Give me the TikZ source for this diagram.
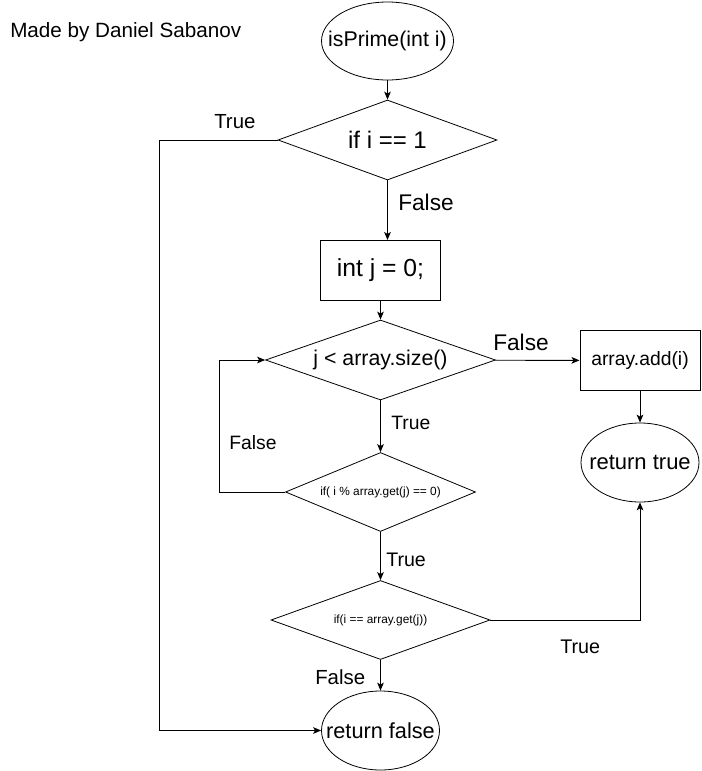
\documentclass[tikz,border=0pt]{standalone}
\usepackage{fontspec}
\setmainfont{Liberation Sans}
\usetikzlibrary{shapes.geometric, arrows.meta, positioning}

\newcommand{\fsz}[1]{\fontsize{#1}{#1}\selectfont}
\tikzset{
  terminal/.style={ellipse, draw, line width=0.6pt, inner sep=0pt},
  process/.style={rectangle, draw, line width=0.75pt, inner sep=0pt},
  decision/.style={diamond, draw, line width=0.6pt, inner sep=0pt, aspect=2.7},
  flow/.style={line width=0.7pt, -{Stealth[length=6pt,width=5pt,inset=1.5pt]}},
  lbl/.style={anchor=west, inner sep=0pt},
}

\begin{document}
\begin{tikzpicture}[x=0.75pt,y=-0.75pt]
        \useasboundingbox (0,0) rectangle (701,771);
        % Header
        \node[lbl, font=\fsz{15.5pt}] (author) at (10,32) {Made by Daniel Sabanov};

        % Shapes of the flow chart
        \node[terminal, minimum width=99pt, minimum height=58.5pt,
              label=center:{\fsz{16pt}isPrime(int i)}] (start) at (387.5,41) {};
        \node[decision, minimum width=164.25pt, minimum height=60pt,
              font=\fsz{18pt}] (dIf) at (387.5,140) {if i == 1};
        \node[process, minimum width=90pt, minimum height=45pt,
              font=\fsz{18.5pt}] (init) at (380.5,270.5) {int j = 0;};
        \node[decision, minimum width=172.5pt, minimum height=60pt,
              font=\fsz{16pt}] (dLoop) at (380.5,360) {j < array.size()};
        \node[process, minimum width=90pt, minimum height=45pt,
              font=\fsz{14.5pt}] (add) at (640,360.5) {array.add(i)};
        \node[terminal, minimum width=88.5pt, minimum height=59.25pt,
              label=center:{\fsz{16.5pt}return true}] (retTrue) at (640,462.5) {};
        \node[decision, minimum width=142.5pt, minimum height=59.25pt,
              font=\fsz{8.9pt}] (dMod) at (380.5,492) {if( i \% array.get(j) == 0)};
        \node[decision, minimum width=164.25pt, minimum height=59.25pt,
              font=\fsz{8.9pt}] (dEq) at (380.5,620) {if(i == array.get(j))};
        \node[terminal, minimum width=88.5pt, minimum height=59.25pt,
              label=center:{\fsz{16.3pt}return false}] (retFalse) at (380.5,730.5) {};

        % Connectors
        \draw[flow] (start.south) -- (start.south |- dIf.north);
        \draw[flow] (dIf.south) -- (dIf.south |- init.north);
        \draw[flow] (dIf.west) -- ++(-118,0) |- (retFalse.west);
        \draw[flow] (init) -- (dLoop);
        \draw[flow] (dLoop) -- (add);
        \draw[flow] (add) -- (retTrue);
        \draw[flow] (dLoop) -- (dMod);
        \draw[flow] (dMod.west) -- ++(-66,0) |- (dLoop.west);
        \draw[flow] (dMod) -- (dEq);
        \draw[flow] (dEq.east) -| (retTrue.south);
        \draw[flow] (dEq) -- (retFalse);

        % Branch labels
        \node[lbl, font=\fsz{15.3pt}] (tIf) at (214,122) {True};
        \node[lbl, font=\fsz{17pt}] (fIf) at (398,202) {False};
        \node[lbl, font=\fsz{17pt}] (fLoop) at (493,342) {False};
        \node[lbl, font=\fsz{14.5pt}] (tLoop) at (391,423) {True};
        \node[lbl, font=\fsz{14.5pt}] (fMod) at (229,443) {False};
        \node[lbl, font=\fsz{14.7pt}] (tMod) at (386,560) {True};
        \node[lbl, font=\fsz{15.3pt}] (fEq) at (315,677) {False};
        \node[lbl, font=\fsz{14.8pt}] (tEq) at (560,647) {True};
    \end{tikzpicture}
\end{document}
